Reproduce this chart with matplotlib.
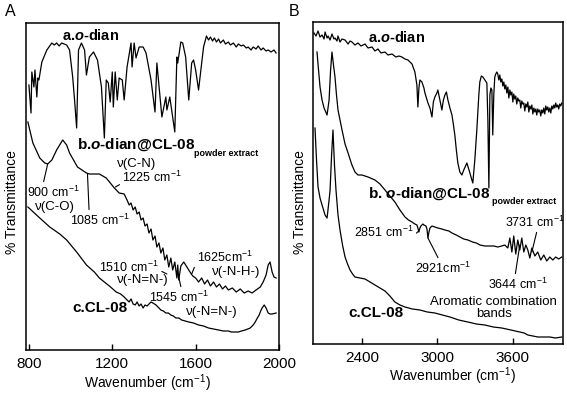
import matplotlib
matplotlib.use('Agg')
import matplotlib.pyplot as plt

plt.rcParams['font.family'] = 'Liberation Sans'
plt.rcParams['mathtext.fontset'] = 'custom'
plt.rcParams['mathtext.rm'] = 'Liberation Sans'
plt.rcParams['mathtext.it'] = 'Liberation Sans:italic:bold'
plt.rcParams['mathtext.bf'] = 'Liberation Sans:bold'
plt.rcParams['mathtext.default'] = 'regular'

# ---- panel A (800-2000 cm-1), arbitrary transmittance units ----
a1_wn = [800, 810, 814, 824, 829, 838, 843, 848, 862, 886, 910, 922, 933, 945, 957, 969, 981, 995,
         1010, 1019, 1029, 1038, 1052, 1067, 1076, 1090, 1110, 1129, 1148, 1162, 1171, 1181, 1190,
         1200, 1205, 1214, 1224, 1233, 1248, 1257, 1271, 1290, 1295, 1305, 1314, 1329, 1348, 1362,
         1386, 1405, 1414, 1438, 1457, 1462, 1476, 1500, 1510, 1514, 1529, 1538, 1552, 1567, 1581,
         1590, 1600, 1614, 1629, 1638, 1652, 1662, 1671, 1681, 1690, 1700, 1710, 1719, 1733, 1743,
         1757, 1767, 1781, 1795, 1805, 1819, 1829, 1843, 1852, 1866, 1876, 1890, 1900, 1914, 1924,
         1938, 1948, 1962, 1976, 1986]
a1_t = [265, 237, 278, 263, 280, 253, 272, 270, 288, 300, 307, 305, 307, 304, 307, 306, 305, 300,
        273, 250, 222, 300, 307, 300, 275, 293, 298, 290, 263, 212, 270, 267, 248,
        278, 243, 278, 250, 272, 270, 250, 283, 307, 283, 307, 292, 303, 303, 297,
        270, 238, 287, 233, 253, 240, 253, 218, 293, 287, 308, 307, 293, 250, 287,
        290, 280, 260, 287, 303, 314, 310, 313, 309, 312, 308, 311, 307, 310, 306,
        308, 305, 307, 303, 306, 304, 305, 302, 303, 300, 303, 301, 304, 300, 302,
        299, 300, 298, 300, 297]

b1_wn = [795, 819, 852, 876, 890, 910, 933, 962, 981, 995, 1033, 1076, 1090, 1138, 1171, 1210,
         1233, 1257, 1271, 1281, 1290, 1300, 1310, 1319, 1329, 1338, 1348, 1357, 1367, 1376, 1386,
         1395, 1405, 1414, 1424, 1433, 1443, 1452, 1462, 1471, 1481, 1490, 1500, 1510, 1514, 1519,
         1529, 1543, 1552, 1567, 1576, 1586, 1600, 1614, 1629, 1643, 1657, 1671, 1686, 1700, 1714,
         1729, 1743, 1757, 1776, 1795, 1814, 1833, 1852, 1871, 1890, 1910, 1924, 1938, 1948, 1957,
         1967, 1976, 1986]
b1_t = [228, 207, 192, 187, 186, 190, 200, 210, 205, 197, 183, 177, 176, 176, 172, 162,
        157, 156, 150, 145, 147, 140, 143, 136, 138, 130, 132, 124, 126, 117, 121,
        110, 114, 103, 107, 97, 102, 90, 95, 83, 92, 80, 88, 72, 85, 70,
        84, 88, 85, 80, 77, 74, 72, 68, 72, 66, 70, 64, 68, 63, 66,
        61, 64, 60, 62, 58, 61, 57, 59, 57, 60, 63, 68, 75, 85, 88,
        78, 73, 72]

c1_wn = [795, 852, 900, 948, 981, 1029, 1076, 1114, 1138, 1186, 1219, 1240, 1257, 1271, 1281,
         1290, 1300, 1310, 1319, 1329, 1338, 1348, 1357, 1367, 1376, 1386, 1395, 1410, 1424, 1433,
         1445, 1457, 1469, 1481, 1493, 1505, 1519, 1533, 1550, 1567, 1590, 1614, 1638, 1662, 1686,
         1710, 1733, 1757, 1771, 1790, 1805, 1820, 1838, 1850, 1862, 1876, 1886, 1896, 1905, 1912,
         1919, 1929, 1938, 1948, 1957, 1967, 1986]
c1_t = [143, 132, 123, 116, 110, 98, 85, 78, 72, 64, 58, 56, 53, 50, 48,
        51, 46, 45, 48, 44, 46, 42, 45, 44, 46, 48, 47, 45, 42, 40,
        39, 37, 37, 35, 34, 32, 32, 30, 29, 28, 27, 25, 24, 22, 21,
        20, 19, 19, 18, 18, 18, 19, 20, 21, 22, 25, 28, 32, 35, 39,
        42, 45, 42, 37, 36, 36, 37]

# ---- panel B (2000-4000 cm-1) ----
a2_wn = [2018, 2034, 2050, 2066, 2082, 2098, 2106, 2122, 2130, 2146, 2161, 2177, 2185, 2201, 2209,
         2225, 2241, 2265, 2289, 2305, 2320, 2344, 2368, 2392, 2424, 2448, 2480, 2503, 2527, 2551,
         2583, 2607, 2639, 2670, 2694, 2718, 2742, 2766, 2798, 2821, 2837, 2845, 2853, 2861, 2877,
         2893, 2901, 2925, 2941, 2957, 2968, 2980, 2996, 3004, 3020, 3036, 3048, 3060, 3072, 3084,
         3100, 3116, 3128, 3139, 3151, 3163, 3179, 3195, 3210, 3235, 3247, 3259, 3270, 3282, 3298,
         3314, 3330, 3338, 3350, 3362, 3378, 3394, 3402, 3410, 3418, 3426, 3434, 3441, 3449, 3457,
         3465, 3473, 3481, 3489, 3497, 3505, 3513, 3521, 3529, 3537, 3545, 3553, 3561, 3569, 3577,
         3585, 3593, 3601, 3608, 3616, 3624, 3632, 3640, 3648, 3656, 3664, 3672, 3680, 3688, 3696,
         3704, 3712, 3720, 3728, 3736, 3744, 3752, 3760, 3768, 3776, 3784, 3791, 3799, 3807, 3815,
         3823, 3831, 3839, 3847, 3855, 3863, 3871, 3879, 3887, 3895, 3903, 3911, 3919, 3927, 3935,
         3942, 3950, 3958, 3966, 3974, 3982, 3990]
a2_t = [317, 314, 319, 313, 315, 311, 318, 312, 314, 310, 316, 311, 312, 309, 314,
        308, 311, 310, 306, 309, 308, 305, 307, 304, 306, 302, 303, 299, 301, 297,
        298, 295, 296, 293, 294, 293, 291, 290, 286, 278, 265, 243, 262, 270, 268,
        262, 257, 247, 242, 233, 248, 253, 257, 260, 250, 240, 250, 255, 258, 250,
        242, 235, 225, 215, 200, 187, 178, 175, 180, 187, 182, 177, 172, 167, 190,
        220, 255, 268, 274, 273, 270, 267, 230, 162, 255, 262, 260, 215, 255, 273,
        276, 278, 276, 270, 275, 268, 271, 264, 268, 261, 265, 257, 263, 252, 260,
        255, 258, 248, 256, 251, 254, 246, 252, 249, 250, 242, 249, 246, 247, 239,
        246, 243, 248, 238, 244, 241, 245, 236, 242, 238, 241, 235, 241, 238, 240,
        234, 240, 237, 242, 236, 244, 240, 243, 238, 242, 237, 244, 241, 245, 242,
        247, 243, 245, 241, 246, 244, 247]

b2_wn = [2042, 2054, 2066, 2082, 2098, 2122, 2138, 2150, 2161, 2173, 2185, 2197, 2209, 2225, 2241,
         2265, 2289, 2320, 2344, 2368, 2400, 2448, 2503, 2543, 2583, 2622, 2662, 2702, 2742, 2770,
         2798, 2821, 2837, 2845, 2853, 2861, 2869, 2885, 2893, 2909, 2917, 2925, 2933, 2941, 2957,
         2980, 3004, 3036, 3060, 3092, 3116, 3150, 3180, 3210, 3243, 3280, 3310, 3340, 3378, 3420,
         3450, 3481, 3513, 3537, 3561, 3577, 3593, 3608, 3624, 3640, 3656, 3672, 3688, 3704, 3720,
         3736, 3752, 3776, 3799, 3823, 3847, 3871, 3895, 3919, 3942, 3966, 3990]
b2_t = [298, 280, 263, 250, 242, 235, 250, 280, 298, 285, 273, 255, 240, 230, 220,
        206, 197, 185, 178, 175, 175, 173, 170, 166, 160, 154, 148, 140, 133, 130,
        128, 126, 125, 122, 118, 122, 124, 126, 125, 124, 121, 112, 118, 122, 124,
        123, 122, 121, 120, 119, 117, 115, 113, 111, 110, 108, 107, 105, 104, 104,
        104, 103, 104, 105, 102, 112, 98, 114, 96, 110, 100, 112, 98, 105, 100,
        92, 102, 94, 98, 90, 95, 89, 93, 90, 93, 91, 93]

c2_wn = [2026, 2038, 2050, 2066, 2082, 2106, 2122, 2138, 2146, 2158, 2169, 2181, 2193, 2209, 2225,
         2245, 2265, 2285, 2305, 2325, 2344, 2384, 2424, 2464, 2503, 2543, 2583, 2622, 2662, 2702,
         2742, 2801, 2861, 2920, 2980, 3040, 3100, 3170, 3243, 3310, 3378, 3445, 3513, 3585, 3656,
         3690, 3720, 3760, 3799, 3850, 3895, 3940, 3990]
c2_t = [222, 190, 163, 152, 145, 135, 132, 150, 160, 195, 220, 185, 160, 135, 120,
        105, 93, 86, 80, 76, 73, 72, 71, 68, 65, 62, 59, 54, 48, 45,
        43, 41, 40, 38, 37, 35, 33, 30, 28, 26, 25, 23, 22, 20, 18,
        17, 15, 14, 13, 13, 13, 12, 13]

W, H = 567, 400
fig = plt.figure(figsize=(W / 100, H / 100), dpi=100)
axA = fig.add_axes([26 / W, 50 / H, 253 / W, 327 / H])
axB = fig.add_axes([313 / W, 56 / H, 250 / W, 322 / H])

for ax in (axA, axB):
    ax.set_yticks([])
    ax.tick_params(axis='x', direction='in', length=4, width=1, labelsize=11, pad=5)
    for s in ax.spines.values():
        s.set_linewidth(1.1)

lw = 0.9
axA.plot(a1_wn, a1_t, color='k', lw=lw)
axA.plot(b1_wn, b1_t, color='k', lw=lw)
axA.plot(c1_wn, c1_t, color='k', lw=lw)
axA.set_xlim(786, 2000)
axA.set_ylim(0, 327)
axA.set_xticks([800, 1200, 1600, 2000])

axB.plot(a2_wn, a2_t, color='k', lw=lw)
axB.plot(b2_wn, b2_t, color='k', lw=lw)
axB.plot(c2_wn, c2_t, color='k', lw=lw)
axB.set_xlim(2010, 4000)
axB.set_ylim(6, 328)
axB.set_xticks([2400, 3000, 3600])

# axis labels and panel letters
fig.text(12 / W, 1 - 202 / H, '% Transmittance', rotation=90, ha='center', va='center', fontsize=10)
fig.text(300 / W, 1 - 202 / H, '% Transmittance', rotation=90, ha='center', va='center', fontsize=10)
fig.text(147 / W, 1 - 383 / H, 'Wavenumber (cm$^{-1}$)', ha='center', va='center', fontsize=10)
fig.text(452 / W, 1 - 376 / H, 'Wavenumber (cm$^{-1}$)', ha='center', va='center', fontsize=10)
fig.text(5 / W, 1 - 12 / H, 'A', ha='left', va='center', fontsize=11.5)
fig.text(289 / W, 1 - 12 / H, 'B', ha='left', va='center', fontsize=11.5)

# curve names
axA.text(957, 315, 'a.$\\it{o}$-dian', fontsize=10.5, fontweight='bold', va='center')
axA.text(1029, 205, 'b.$\\it{o}$-dian@CL-08', fontsize=11, fontweight='bold', va='center')
axA.text(1590, 197, 'powder extract', fontsize=6.5, fontweight='bold', va='center')
axA.text(1010, 42, 'c.CL-08', fontsize=11, fontweight='bold', va='center')
axB.text(2448, 313, 'a.$\\it{o}$-dian', fontsize=10.5, fontweight='bold', va='center')
axB.text(2448, 156, 'b. $\\it{o}$-dian@CL-08', fontsize=11, fontweight='bold', va='center')
axB.text(3434, 149, 'powder extract', fontsize=6.5, fontweight='bold', va='center')
axB.text(2289, 37, 'c.CL-08', fontsize=11, fontweight='bold', va='center')

# plain band labels
axA.text(1224, 186, 'ν(C-N)', fontsize=9.5, va='center')
axA.text(829, 143, 'ν(C-O)', fontsize=9.5, va='center')
axA.text(1224, 70, 'ν(-N=N-)', fontsize=9.5, va='center')
axA.text(1676, 78, 'ν(-N-H-)', fontsize=9.5, va='center')
axA.text(1552, 38, 'ν(-N=N-)', fontsize=9.5, va='center')
axB.text(3449, 42, 'Aromatic combination\nbands', fontsize=9.5, ha='center', va='center',
         multialignment='center', linespacing=1.05)


def note(ax, txt, xy, xytext, rel):
    ax.annotate(txt, xy=xy, xytext=xytext, fontsize=9, ha='left', va='center',
                arrowprops=dict(arrowstyle='-', lw=0.8, color='k',
                                shrinkA=0, shrinkB=0, relpos=rel))


note(axA, '1225 cm$^{-1}$', (1215, 163), (1248, 173), (0.0, 0.1))
note(axA, '900 cm$^{-1}$', (890, 186), (790, 158), (0.3, 0.9))
note(axA, '1085 cm$^{-1}$', (1081, 176), (995, 130), (0.33, 0.85))
note(axA, '1510 cm$^{-1}$', (1462, 76), (1138, 83), (1.0, 0.3))
note(axA, '1545 cm$^{-1}$', (1519, 73), (1376, 53), (0.55, 0.9))
note(axA, '1625cm$^{-1}$', (1581, 76), (1605, 93), (0.0, 0.2))
note(axB, '2851 cm$^{-1}$', (2851, 119), (2336, 118), (1.0, 0.25))
note(axB, '2921cm$^{-1}$', (2925, 112), (2821, 82), (0.45, 0.9))
note(axB, '3731 cm$^{-1}$', (3752, 98), (3537, 128), (0.55, 0.1))
note(axB, '3644 cm$^{-1}$', (3656, 105), (3402, 66), (0.45, 0.9))

fig.savefig('out.png', dpi=100)
